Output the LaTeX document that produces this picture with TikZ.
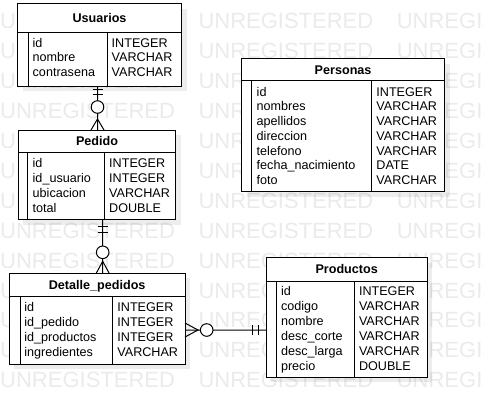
\documentclass[tikz,border=0pt]{standalone}
\usepackage{fontspec}
\setmainfont{Liberation Sans}
\usetikzlibrary{calc,fit}
\tikzset{
 ln/.style={line width=1bp, draw=black},
 frame/.style={ln, fill=white, inner sep=0pt, outer sep=0pt, rectangle},
 shadowc/.style={fill=black, opacity=0.07},
 cell/.style={anchor=west, inner sep=0pt, text height=9bp, text depth=0pt, font=\fontsize{12.6bp}{15bp}\selectfont},
 hdr/.style={anchor=center, inner sep=0pt, text height=9bp, text depth=0pt, font=\fontsize{12.6bp}{15bp}\selectfont\bfseries},
 wm/.style={anchor=north west, inner sep=0pt, text height=15.75bp, text depth=0pt, text=black!8, font=\fontsize{22bp}{22bp}\selectfont},
 conn/.style={line width=1bp, draw=black},
}
\newcommand\ertable[9]{%
 \fill[shadowc] ({#2+5},{#3+5}) rectangle ({#4+5},{#5+5});
 \node[frame, fit={(#2,#3) (#4,#5)}] (#1) {};
 \draw[ln] (#2,#6) -- (#4,#6);
 \draw[ln] (#7,#6) -- (#7,#5);
 \draw[ln] (#8,#6) -- (#8,#5);
 \node[hdr] (#1h) at ({(#2+#4)/2},{(#3+#6)/2}) {#9};
}
\newcommand\errows[6]{%
 \foreach \rname/\rtype [count=\ri] in {#6} {
  \node[cell] (#1n\ri) at (#2,{#4+#5*(\ri-1)}) {\rname};
  \node[cell] (#1t\ri) at (#3,{#4+#5*(\ri-1)}) {\rtype};
 }}
\begin{document}
\begin{tikzpicture}[x=1bp,y=-1bp]
\useasboundingbox (0,0) rectangle (484,418);
\clip (0,0) rectangle (484,418);
\fill[white] (0,0) rectangle (484,418);
% watermark
\foreach \k in {0,...,12} {
 \foreach \c in {0,1,2} {
  \node[wm] (wm\k-\c) at ({\c*198.3},{13+29.9*\k}) {UNREGISTERED};
 }}
% tables
\ertable{usuarios}{17.5}{3.5}{181.5}{86}{32.5}{28.3}{107.3}{Usuarios}
\errows{u}{32.5}{111.5}{42.7}{14.5}{id/INTEGER, nombre/VARCHAR, contrasena/VARCHAR}

\ertable{pedido}{18.3}{130}{175.7}{219.5}{152.7}{27.7}{104.3}{Pedido}
\errows{p}{32.5}{109}{163.3}{15}{id/INTEGER, id\_usuario/INTEGER, ubicacion/VARCHAR, total/DOUBLE}

\ertable{detalle}{9.3}{273.3}{185}{364}{296}{20}{112.3}{Detalle\_pedidos}
\errows{d}{24.2}{117.2}{307.3}{15}{id/INTEGER, id\_pedido/INTEGER, id\_productos/INTEGER, ingredientes/VARCHAR}

\ertable{productos}{266}{257.7}{427.3}{377.3}{281}{276}{354.3}{Productos}
\errows{r}{280.8}{358.8}{291}{15}{id/INTEGER, codigo/VARCHAR, nombre/VARCHAR, desc\_corte/VARCHAR, desc\_larga/VARCHAR, precio/DOUBLE}

\ertable{personas}{241.7}{58.5}{444.5}{191.5}{80.5}{251.7}{371.7}{Personas}
\errows{s}{256.5}{376.2}{91.7}{14.7}{id/INTEGER, nombres/VARCHAR, apellidos/VARCHAR, direccion/VARCHAR, telefono/VARCHAR, fecha\_nacimiento/DATE, foto/VARCHAR}

% Usuarios -- Pedido
\path (usuarios.south) ++(-2,0) coordinate (a1);
\path (pedido.north) ++(0.5,0) coordinate (a2);
\draw[conn] (a1) -- (a2);
\draw[conn] ($(a1)+(-5,3)$) -- ($(a1)+(5,3)$);
\draw[conn] ($(a1)+(-5,8.5)$) -- ($(a1)+(5,8.5)$);
\draw[conn] ($(a2)+(-6.5,0)$) -- ($(a2)+(0,-11)$) -- ($(a2)+(6.5,0)$);
\draw[conn, fill=white] ($(a2)+(0,-23)$) circle[radius=6.3bp];

% Pedido -- Detalle_pedidos
\path (pedido.south) ++(5.7,0) coordinate (b1);
\path (detalle.north) ++(5.55,0) coordinate (b2);
\draw[conn] (b1) -- (b2);
\draw[conn] ($(b1)+(-5,7.2)$) -- ($(b1)+(5,7.2)$);
\draw[conn] ($(b1)+(-5,13.2)$) -- ($(b1)+(5,13.2)$);
\draw[conn] ($(b2)+(-6.5,0)$) -- ($(b2)+(0,-12)$) -- ($(b2)+(6.5,0)$);
\draw[conn, fill=white] ($(b2)+(0,-21)$) circle[radius=6.3bp];

% Productos -- Detalle_pedidos
\path (productos.west) ++(0,12.5) coordinate (c1);
\path (detalle.east) ++(0,11.35) coordinate (c2);
\draw[conn] (c1) -- (c2);
\draw[conn] ($(c1)+(-8,-5)$) -- ($(c1)+(-8,5)$);
\draw[conn] ($(c1)+(-13.4,-5)$) -- ($(c1)+(-13.4,5)$);
\draw[conn] ($(c2)+(0,-7)$) -- ($(c2)+(13,0)$) -- ($(c2)+(0,7)$);
\draw[conn, fill=white] ($(c2)+(21.7,0)$) circle[radius=6.3bp];
\end{tikzpicture}
\end{document}
